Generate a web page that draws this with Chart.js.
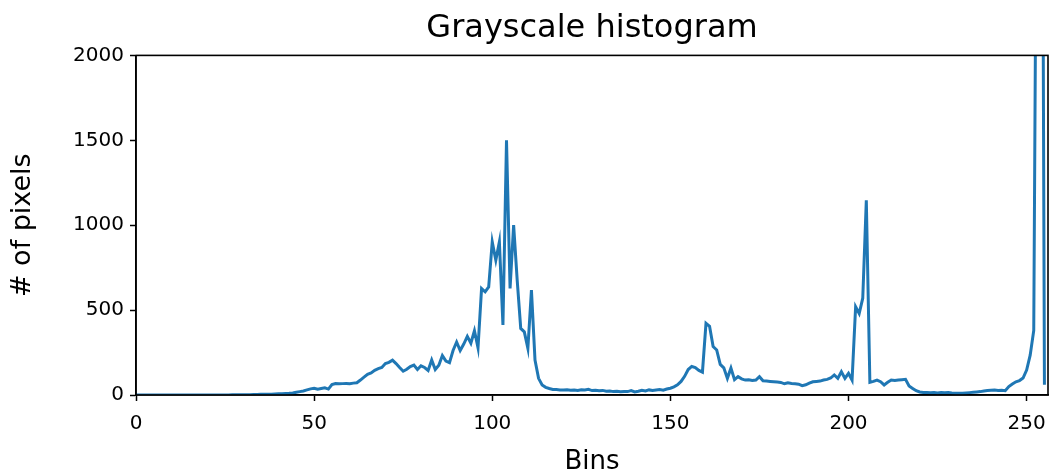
<!DOCTYPE html>
<html>
<head>
<meta charset="utf-8">
<title>Grayscale histogram</title>
<script src="https://cdn.jsdelivr.net/npm/chart.js@4.4.1/dist/chart.umd.min.js"></script>
<style>
  html, body { margin: 0; padding: 0; background: #fff; }
  #caja { width: 1053px; height: 476px; }
</style>
</head>
<body>
<div id="caja"><canvas id="grafico"></canvas></div>
<script>
const d = document;

// ==================== DATOS ======================
const titulo = 'Grayscale histogram';
const etiquetaX = 'Bins';
const etiquetaY = '# of pixels';
const ticksX = [0, 50, 100, 150, 200, 250];
const ticksY = [0, 500, 1000, 1500, 2000];

// conteo de pixeles por bin (0..255)
const conteos = [
    0, 0, 0, 0, 0, 0, 0, 0, 0, 0,
    0, 0, 0, 0, 0, 0, 0, 0, 0, 0,
    0, 0, 0, 0, 0, 0, 0, 1, 1, 1,
    2, 2, 2, 3, 3, 4, 4, 5, 5, 6,
    7, 8, 9, 10, 12, 16, 20, 24, 30, 36,
    40, 34, 38, 42, 35, 62, 68, 66, 67, 68,
    66, 70, 72, 88, 105, 122, 130, 145, 155, 162,
    185, 192, 205, 185, 162, 140, 152, 168, 176, 150,
    172, 162, 145, 206, 150, 175, 232, 200, 190, 262,
    312, 262, 300, 345, 305, 378, 278, 627, 608, 637,
    902, 794, 902, 412, 1500, 627, 1000, 676, 392, 372,
    275, 618, 206, 98, 59, 45, 38, 33, 32, 30,
    29, 31, 28, 30, 27, 31, 29, 33, 26, 28,
    25, 27, 22, 24, 20, 22, 19, 21, 20, 26,
    18, 22, 28, 24, 30, 26, 29, 32, 28, 35,
    40, 48, 60, 80, 110, 150, 168, 162, 145, 135,
    422, 405, 285, 265, 180, 160, 98, 158, 90, 108,
    95, 88, 90, 86, 88, 108, 84, 82, 80, 78,
    76, 74, 66, 72, 68, 66, 64, 55, 60, 70,
    78, 80, 82, 88, 92, 100, 118, 98, 137, 98,
    128, 88, 520, 480, 570, 1147, 75, 80, 88, 78,
    59, 75, 88, 85, 88, 90, 92, 53, 39, 25,
    18, 15, 14, 13, 14, 12, 15, 13, 14, 12,
    11, 10, 10, 12, 14, 16, 18, 20, 24, 26,
    28, 30, 27, 28, 25, 50, 65, 78, 85, 100,
    147, 235, 380, 4000, 6000, 60
];
const bins = conteos.map((c, i) => i);

const fuente = 'DejaVu Sans';

// marco completo alrededor del area (estilo matplotlib)
const marco = {
    id: 'marco',
    afterDraw(chart) {
        const { ctx, chartArea: a } = chart;
        ctx.save();
        ctx.strokeStyle = '#000';
        ctx.lineWidth = 1.6;
        ctx.strokeRect(a.left, a.top, a.right - a.left, a.bottom - a.top);
        ctx.restore();
    }
};

function pintarChart() {
    const $ctx = d.getElementById('grafico');

    const chart = new Chart($ctx, {
        type: 'line',
        data: {
            datasets: [{
                data: bins.map((b, i) => ({ x: b, y: conteos[i] })),
                borderColor: '#1f77b4',
                borderWidth: 3,
                pointRadius: 0,
                tension: 0,
                fill: false,
            }]
        },
        options: {
            responsive: true,
            maintainAspectRatio: false,
            devicePixelRatio: 1,
            animation: false,
            layout: { padding: { left: 0, right: 5, top: 0, bottom: 0 } },
            plugins: {
                legend: { display: false },
                tooltip: { enabled: false },
                title: {
                    display: true,
                    fullSize: false,
                    text: titulo,
                    color: '#000',
                    font: { family: fuente, size: 32, weight: 'normal', lineHeight: 1.2 },
                    padding: { top: 9, bottom: 8 },
                },
            },
            scales: {
                x: {
                    type: 'linear',
                    min: 0,
                    max: 256,
                    afterBuildTicks: s => { s.ticks = ticksX.map(v => ({ value: v })); },
                    afterFit: s => { s.height = 81; s.paddingRight = 0; s.paddingLeft = 0; },
                    grid: { drawOnChartArea: false, color: '#000', tickLength: 6, tickWidth: 1.5 },
                    border: { color: '#000', width: 1.6 },
                    ticks: { color: '#000', padding: 11, font: { family: fuente, size: 20 }, callback: v => String(v) },
                    title: {
                        display: true,
                        text: etiquetaX,
                        color: '#000',
                        font: { family: fuente, size: 26, lineHeight: 1 },
                        padding: { top: 0, bottom: 1 },
                    },
                },
                y: {
                    min: 0,
                    max: 2000,
                    afterBuildTicks: s => { s.ticks = ticksY.map(v => ({ value: v })); },
                    afterFit: s => { s.width = 136; s.paddingTop = 0; s.paddingBottom = 0; },
                    grid: { drawOnChartArea: false, color: '#000', tickLength: 6, tickWidth: 1.5 },
                    border: { color: '#000', width: 1.6 },
                    ticks: { color: '#000', padding: 6, font: { family: fuente, size: 20 }, callback: v => String(v) },
                    title: {
                        display: true,
                        text: etiquetaY,
                        color: '#000',
                        font: { family: fuente, size: 27, lineHeight: 1 },
                        padding: { top: 9, bottom: 0 },
                    },
                },
            },
        },
        plugins: [marco],
    });
}

pintarChart();
</script>
</body>
</html>
